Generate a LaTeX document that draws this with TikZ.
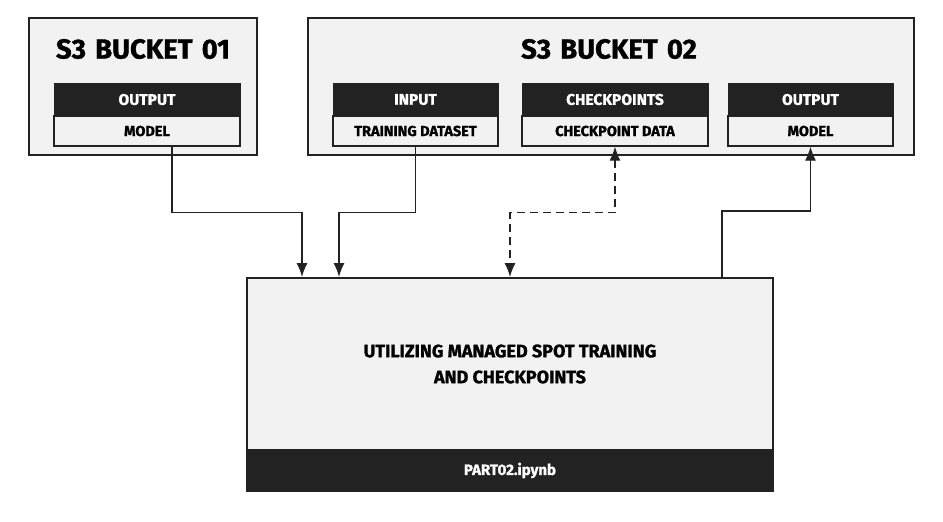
\documentclass[tikz,border=0pt]{standalone}
\usepackage{fontspec}
\usepackage{tikz}
\usetikzlibrary{arrows.meta}

\newfontfamily\lbl[BoldFeatures={FakeBold=1.2}]{Fira Sans}
\definecolor{ink}{HTML}{222222}
\definecolor{paper}{HTML}{F2F2F2}

\tikzset{
  bucket/.style={draw=ink, fill=paper, line width=2.6pt, inner sep=0pt},
  title/.style={font=\lbl\bfseries\fontsize{27.5}{30}\selectfont, text=black},
  head/.style={draw=ink, fill=ink, text=white, line width=1pt, inner sep=0pt, minimum height=33pt, font=\lbl\bfseries\fontsize{15.5}{17}\selectfont},
  cell/.style={draw=ink, fill=paper, text=black, line width=1.3pt, inner sep=0pt, minimum height=30pt, font=\lbl\bfseries\fontsize{14.5}{16}\selectfont},
  arr/.style={draw=ink, line width=1.3pt, -{Latex[length=14pt,width=11pt]}},
  dblarr/.style={draw=ink, line width=1.3pt, dash pattern=on 8pt off 5pt, {Latex[length=14pt,width=11pt]}-{Latex[length=14pt,width=11pt]}}
}

\begin{document}
\begin{tikzpicture}[x=1pt, y=-1pt]

 \useasboundingbox (0,0) rectangle (943,522);

 %%%  nodes

 % buckets
 \node [bucket, minimum width=228pt, minimum height=137pt] (b1) at (143,86.5) {};
 \node [bucket, minimum width=606pt, minimum height=137pt] (b2) at (611,86.5) {};
 \node [title] (t1) at (143,49) {S3\,\,BUCKET\,\,01};
 \node [title] (t2) at (609,49) {S3\,\,BUCKET\,\,02};

 % bucket contents
 \node [head, minimum width=186pt] (out1h) at (147,99.5) {OUTPUT};
 \node [cell, minimum width=186pt] (out1) at (147,131) {MODEL};
 \node [head, minimum width=165pt] (inh) at (415.5,99.5) {INPUT};
 \node [cell, minimum width=165pt] (in) at (415.5,131) {TRAINING DATASET};
 \node [head, minimum width=186pt] (ckh) at (615,99.5) {CHECKPOINTS};
 \node [cell, minimum width=186pt] (ck) at (615,131) {CHECKPOINT DATA};
 \node [head, minimum width=165pt] (out2h) at (810.5,99.5) {OUTPUT};
 \node [cell, minimum width=165pt] (out2) at (810.5,131) {MODEL};

 % training job
 \node [draw=ink, fill=paper, line width=2pt, minimum width=526pt, minimum height=172pt, align=center,
        font=\lbl\bfseries\fontsize{18}{26}\selectfont] (job) at (510,364)
       {UTILIZING MANAGED SPOT TRAINING\\AND CHECKPOINTS};
 \node [draw=ink, fill=ink, text=white, line width=2pt, minimum width=526pt, minimum height=41pt,
        font=\lbl\bfseries\fontsize{15}{17}\selectfont] (nb) at (510,470.5) {PART02.ipynb};

 %%%  connectors

 \draw [arr] ([xshift=25pt]out1.south) -- ++(0,66) -| ([xshift=56pt]job.north west);
 \draw [arr] (in.south) -- ++(0,66) -| ([xshift=93pt]job.north west);
 \draw [dblarr] (ck.south) -- ++(0,66) -| ([xshift=264pt]job.north west);
 \draw [arr] ([xshift=476pt]job.north west) -- ++(0,-66) -| (out2.south);

\end{tikzpicture}
\end{document}
